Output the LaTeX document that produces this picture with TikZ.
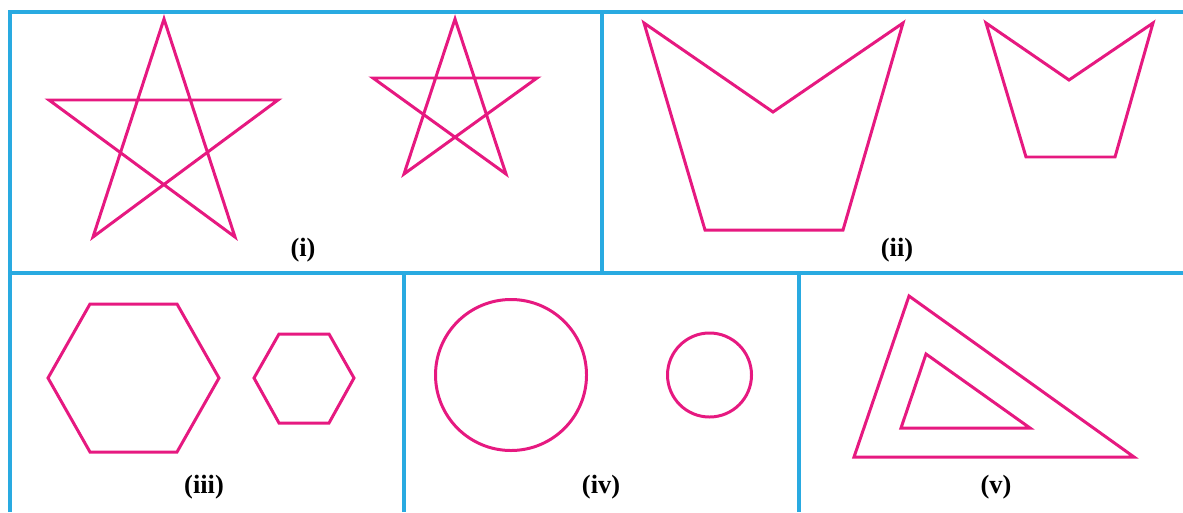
\documentclass[tikz,border=0pt]{standalone}
\usepackage{fontspec}
\setmainfont{Liberation Serif}
\definecolor{frameblue}{RGB}{41,170,225}
\definecolor{shapepink}{RGB}{230,25,128}
\begin{document}
\begin{tikzpicture}[x=0.01cm,y=-0.01cm,
  frame/.style={draw=frameblue,line width=1.1pt},
  fig/.style={draw=shapepink,line width=0.85pt,line join=miter},
  lab/.style={font=\fontsize{7.5}{9}\selectfont\bfseries,inner sep=0pt}]
\useasboundingbox (0,0) rectangle (1183,512);
% frame
\draw[frame] (10,512) -- (10,12) -- (1183,12);
\draw[frame] (10,273) -- (1183,273);
\draw[frame] (602,12) -- (602,273);
\draw[frame] (404,273) -- (404,512);
\draw[frame] (799,273) -- (799,512);
% (i) stars
\draw[fig] (164,19) -- (93,237) -- (278,100) -- (49,100) -- (235,237) -- cycle;
\draw[fig] (455,19) -- (404,174) -- (537,78) -- (373,78) -- (506,174) -- cycle;
% (ii)
\draw[fig] (644,23) -- (773,112) -- (903,23) -- (843,230) -- (705,230) -- cycle;
\draw[fig] (986,23) -- (1069,80) -- (1153,23) -- (1115,157) -- (1026,157) -- cycle;
% (iii) hexagons
\draw[fig] (48,378) -- (90,304) -- (177,304) -- (219,378) -- (177,452) -- (90,452) -- cycle;
\draw[fig] (254,378) -- (279,334) -- (329,334) -- (354,378) -- (329,423) -- (279,423) -- cycle;
% (iv) circles
\draw[fig] (511,375) circle[radius=75.5];
\draw[fig] (709.5,375) circle[radius=42];
% (v) triangles
\draw[fig] (909,296) -- (1134,457) -- (854,457) -- cycle;
\draw[fig] (926,354) -- (1030,428) -- (901,428) -- cycle;
% labels
\node[lab] (l1) at (303,250) {(i)};
\node[lab] (l2) at (897,250) {(ii)};
\node[lab] (l3) at (204,487) {(iii)};
\node[lab] (l4) at (601,487) {(iv)};
\node[lab] (l5) at (996,487) {(v)};
\end{tikzpicture}
\end{document}
